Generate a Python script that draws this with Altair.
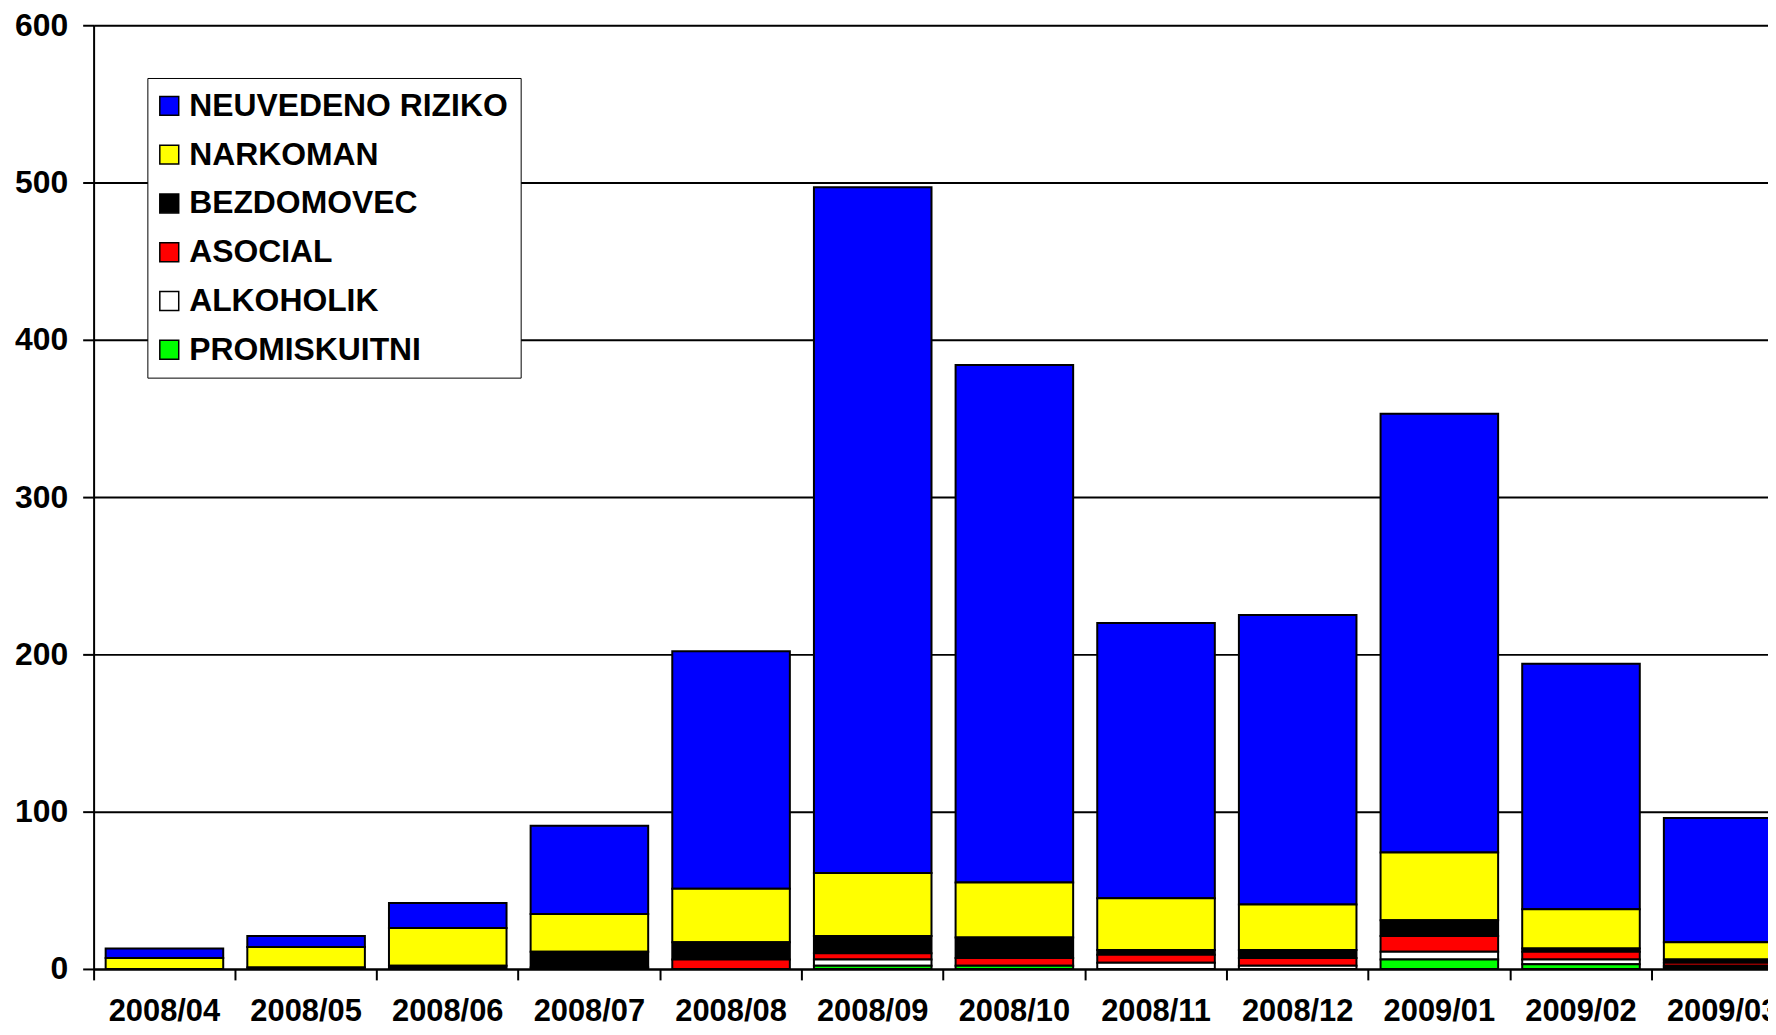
import altair as alt
import pandas as pd

months = ["2008/04", "2008/05", "2008/06", "2008/07", "2008/08", "2008/09",
          "2008/10", "2008/11", "2008/12", "2009/01", "2009/02", "2009/03"]

series_names = ["NEUVEDENO RIZIKO", "NARKOMAN", "BEZDOMOVEC", "ASOCIAL", "ALKOHOLIK", "PROMISKUITNI"]
series_colors = ["#0000FF", "#FFFF00", "#000000", "#FF0000", "#FFFFFF", "#00FF00"]

neuvedeno = [6, 7, 16, 56, 151, 436, 329, 175, 184, 279, 156, 79]
narkoman = [7, 13, 24, 24, 34, 40, 35, 33, 29, 43, 25, 11]
bezdomovec = [0, 1, 2, 10, 11, 11, 13, 3, 5, 10, 2, 2]
asocial = [0, 0, 0, 1, 6, 4, 5, 5, 5, 10, 5, 2]
alkoholik = [0, 0, 0, 0, 0, 4, 0, 4, 2, 5, 3, 1]
promiskuitni = [0, 0, 0, 0, 0, 2, 2, 0, 0, 6, 3, 1]

values_by_series = [neuvedeno, narkoman, bezdomovec, asocial, alkoholik, promiskuitni]

rows = []
for s_idx, (name, vals) in enumerate(zip(series_names, values_by_series)):
    for m, v in zip(months, vals):
        if v > 0:
            rows.append({"month": m, "series": name, "value": v,
                         "stack_order": len(series_names) - 1 - s_idx})
df = pd.DataFrame(rows)

FONT = "Liberation Sans"
BAND = 142.3

chart = alt.Chart(df).mark_bar(
    width=alt.RelativeBandSize(0.83), stroke="black", strokeWidth=2
).encode(
    x=alt.X("month:N", sort=months,
            scale=alt.Scale(domain=months, range=[0, BAND * len(months)],
                            paddingInner=0, paddingOuter=0),
            axis=alt.Axis(title=None, bandPosition=0,
                          labelAngle=0, labelFont=FONT, labelFontSize=31,
                          labelFontWeight="bold", labelColor="black",
                          labelBaseline="alphabetic", labelPadding=41,
                          tickSize=11, tickColor="black", tickWidth=2,
                          domainColor="black", domainWidth=2,
                          labelOverlap=False, labelBound=False, grid=False)),
    y=alt.Y("value:Q", stack="zero",
            scale=alt.Scale(domain=[0, 600], nice=False),
            axis=alt.Axis(title=None, values=[0, 100, 200, 300, 400, 500, 600],
                          labelFont=FONT, labelFontSize=32, labelFontWeight="bold",
                          labelColor="black", labelPadding=15, tickSize=11,
                          tickColor="black", tickWidth=2, domainColor="black",
                          domainWidth=2, grid=True, gridColor="black",
                          gridWidth=2, gridOpacity=1)),
    color=alt.Color("series:N",
                    scale=alt.Scale(domain=series_names, range=series_colors),
                    legend=alt.Legend(title=None, orient="none", legendX=54,
                                      legendY=53, fillColor="white",
                                      strokeColor="black", padding=12,
                                      symbolType="square", symbolSize=361,
                                      symbolStrokeColor="black",
                                      symbolStrokeWidth=1.5, symbolOpacity=1,
                                      symbolOffset=-6,
                                      labelFont=FONT, labelFontSize=32,
                                      labelFontWeight="bold", labelColor="black",
                                      labelOffset=4, rowPadding=17,
                                      labelLimit=600)),
    order=alt.Order("stack_order:Q", sort="ascending"),
).properties(
    width=1682,
    height=948,
    autosize=alt.AutoSizeParams(type="none"),
    padding={"left": 86, "top": 15, "right": 0, "bottom": 56},
).configure_view(stroke=None).configure(background="white")

chart.save("out.html", embed_options={"renderer": "svg", "actions": False})
